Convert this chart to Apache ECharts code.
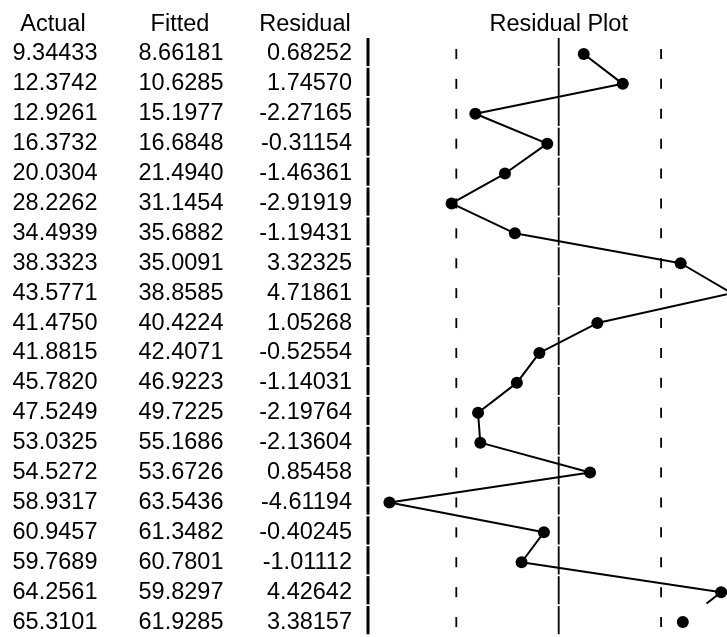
<!DOCTYPE html>
<html>
<head>
<meta charset="utf-8">
<script src="https://cdn.jsdelivr.net/npm/echarts@6/dist/echarts.min.js"></script>
<style>
  html, body { margin: 0; padding: 0; background: #ffffff; }
  #chart { width: 727px; height: 637px; }
</style>
</head>
<body>
<div id="chart"></div>
<script>
// Actual / fitted / residual table with residual plot
const actual = [9.34433, 12.3742, 12.9261, 16.3732, 20.0304, 28.2262, 34.4939, 38.3323, 43.5771, 41.4750,
                41.8815, 45.7820, 47.5249, 53.0325, 54.5272, 58.9317, 60.9457, 59.7689, 64.2561, 65.3101];
const fitted = [8.66181, 10.6285, 15.1977, 16.6848, 21.4940, 31.1454, 35.6882, 35.0091, 38.8585, 40.4224,
                42.4071, 46.9223, 49.7225, 55.1686, 53.6726, 63.5436, 61.3482, 60.7801, 59.8297, 61.9285];
const residual = [0.68252, 1.74570, -2.27165, -0.31154, -1.46361, -2.91919, -1.19431, 3.32325, 4.71861, 1.05268,
                  -0.52554, -1.14031, -2.19764, -2.13604, 0.85458, -4.61194, -0.40245, -1.01112, 4.42642, 3.38157];
const headers = ['Actual', 'Fitted', 'Residual'];
const plotTitle = 'Residual Plot';
const seBand = 2.79;          // +/- one standard error band
const xMin = -5.196, xMax = 4.586;

const rows = residual.map((_, i) => i);
const FONT = '"Liberation Sans", Arial, sans-serif';
const FS = 23.5;

// connecting line: the final segment stops at the last row's top edge
const n = residual.length;
const stubFrac = 0.38;
const lineData = residual.slice(0, n - 1).map((r, i) => [r, i]);
lineData.push([residual[n - 2] + stubFrac * (residual[n - 1] - residual[n - 2]), n - 2 + stubFrac]);

const chart = echarts.init(document.getElementById('chart'), null, { renderer: 'canvas' });

const catAxis = (labels, margin, align) => ({
  type: 'category',
  gridIndex: 0,
  data: labels,
  inverse: true,
  boundaryGap: true,
  position: 'left',
  axisLine: { show: false },
  axisTick: { show: false },
  splitLine: { show: false },
  axisLabel: {
    show: true, interval: 0, margin: margin, align: align,
    color: '#000', fontFamily: FONT, fontSize: FS
  }
});

const headerText = (text, x) => ({
  type: 'text', x: x, y: 24.5,
  style: { text: text, fill: '#000', font: FS + 'px ' + FONT, textAlign: 'center', textVerticalAlign: 'middle' }
});

chart.setOption({
  backgroundColor: '#ffffff',
  animation: false,
  grid: { left: 368, top: 39, width: 359, height: 601, containLabel: false },
  xAxis: {
    type: 'value', min: xMin, max: xMax, show: false
  },
  yAxis: [
    { type: 'value', min: -0.5, max: 19.5, inverse: true, show: false },
    catAxis(actual.map(v => v.toPrecision(6)), 355.5, 'left'),
    catAxis(fitted.map(v => v.toPrecision(6)), 229.5, 'left'),
    catAxis(residual.map(v => v.toFixed(5)), 16, 'right')
  ],
  graphic: [
    headerText(headers[0], 53),
    headerText(headers[1], 180),
    headerText(headers[2], 305),
    headerText(plotTitle, 558.7)
  ],
  series: [
    {
      // per-row guides: left border, zero line and +/- S.E. dashes
      type: 'custom',
      xAxisIndex: 0, yAxisIndex: 0,
      data: rows.map(i => [0, i]),
      silent: true,
      z: 1,
      renderItem: function (params, api) {
        const i = api.value(1);
        const cy = api.coord([0, i])[1];
        const xL = api.coord([xMin, i])[0];
        const x0 = api.coord([0, i])[0];
        const xn = api.coord([-seBand, i])[0];
        const xp = api.coord([seBand, i])[0];
        return {
          type: 'group',
          children: [
            { type: 'rect', shape: { x: xL - 1.5, y: cy - 16, width: 3, height: 28.2 }, style: { fill: '#000' } },
            { type: 'rect', shape: { x: x0 - 0.9, y: cy - 16, width: 1.8, height: 28.2 }, style: { fill: '#000' } },
            { type: 'rect', shape: { x: xn - 0.9, y: cy - 5, width: 1.8, height: 10 }, style: { fill: '#000' } },
            { type: 'rect', shape: { x: xp - 0.9, y: cy - 5, width: 1.8, height: 10 }, style: { fill: '#000' } }
          ]
        };
      }
    },
    {
      type: 'line',
      xAxisIndex: 0, yAxisIndex: 0,
      data: lineData,
      showSymbol: false,
      symbol: 'none',
      clip: true,
      lineStyle: { color: '#000', width: 2 },
      z: 3
    },
    {
      type: 'scatter',
      xAxisIndex: 0, yAxisIndex: 0,
      data: residual.map((r, i) => [r, i]),
      symbol: 'circle',
      symbolSize: 12,
      clip: true,
      itemStyle: { color: '#000', opacity: 1 },
      z: 4
    }
  ]
});
</script>
</body>
</html>
